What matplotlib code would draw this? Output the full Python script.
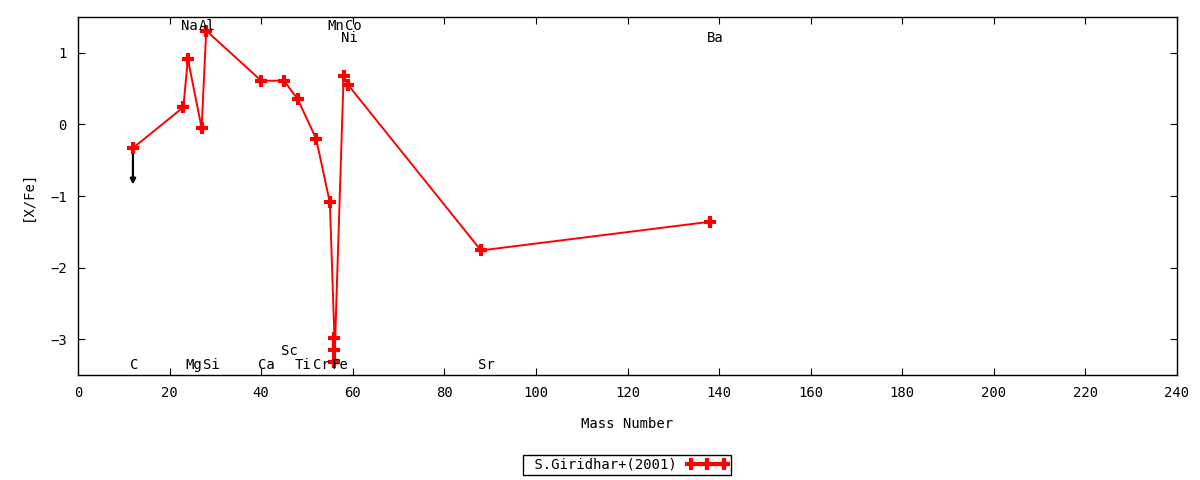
import matplotlib
matplotlib.use("Agg")
import matplotlib.pyplot as plt
from matplotlib.lines import Line2D

plt.rcParams["font.family"] = ["DejaVu Sans Mono"]
plt.rcParams["font.size"] = 10

# abundance pattern, S.Giridhar+(2001)
mass = [12, 23, 24, 27, 28, 40, 45, 48, 52, 55, 56, 56, 56, 58, 59, 88, 138]
xfe = [-0.33, 0.24, 0.91, -0.05, 1.31, 0.61, 0.61, 0.35, -0.20, -1.09,
       -2.98, -3.15, -3.32, 0.67, 0.55, -1.76, -1.36]

# upper limits (C)
lim_mass = [12]
lim_from = [-0.33]
lim_to = [-0.84]

# element labels
el_names = ["C", "Na", "Mg", "Al", "Si", "Ca", "Sc", "Ti", "Cr", "Mn", "Fe", "Co", "Ni", "Sr", "Ba"]
el_mass = [12, 23, 24, 27, 28, 40, 45, 48, 52, 55, 56, 59, 58, 88, 138]
el_y = [-3.36, 1.37, -3.36, 1.37, -3.36, -3.36, -3.16, -3.36, -3.36, 1.37, -3.36, 1.37, 1.20, -3.36, 1.20]

RED = "#ff0000"

fig = plt.figure(figsize=(12, 4.8), dpi=100)
ax = fig.add_axes((78 / 1200, 1 - 375 / 480, 1099 / 1200, 358 / 480))

ax.plot(mass, xfe, color=RED, lw=1.4, marker="+", ms=9, mew=3, zorder=3)
for m, a, b in zip(lim_mass, lim_from, lim_to):
    ax.annotate("", xy=(m, b), xytext=(m, a),
                arrowprops=dict(arrowstyle="-|>", color="black", lw=1.6,
                                mutation_scale=8, shrinkA=0, shrinkB=0), zorder=2)

for n, m, y in zip(el_names, el_mass, el_y):
    ax.annotate(n, (m, y), xytext=(-2, 0), textcoords="offset points",
                ha="left", va="center", fontsize=10)

ax.set_xlim(0, 240)
ax.set_ylim(-3.5, 1.5)
ax.set_xticks(range(0, 241, 20))
ax.set_yticks([-3, -2, -1, 0, 1])
ax.tick_params(direction="in", length=5, top=True, right=True, width=0.8)
ax.tick_params(axis="x", pad=8)
ax.tick_params(axis="y", pad=8)
for sp in ax.spines.values():
    sp.set_linewidth(1.0)
ax.set_xlabel("Mass Number", labelpad=12)
ax.set_ylabel("[X/Fe]", labelpad=11)

handle = Line2D([], [], color=RED, lw=3, marker="+", ms=9, mew=3)
leg = fig.legend([handle], [" S.Giridhar+(2001)"], loc="center",
                 bbox_to_anchor=(627 / 1200, 1 - 465 / 480), numpoints=3,
                 markerfirst=False, handlelength=3.0, handletextpad=0.7,
                 borderpad=0.2, fancybox=False, framealpha=1, fontsize=10)
leg.get_frame().set_edgecolor("black")
leg.get_frame().set_linewidth(1.0)

fig.savefig("out.png", dpi=100)
